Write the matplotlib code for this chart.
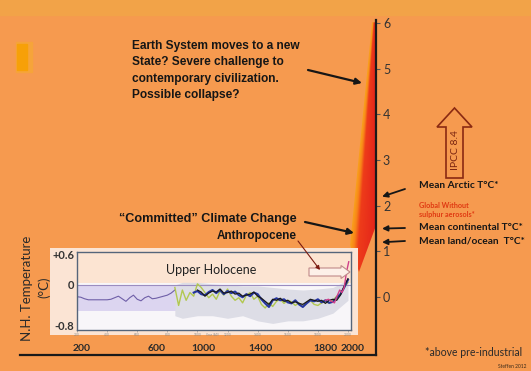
import numpy as np
import matplotlib
matplotlib.use("Agg")
import matplotlib.pyplot as plt
from matplotlib.patches import Polygon, Rectangle, FancyArrow
from matplotlib.colors import LinearSegmentedColormap

# --- inset: N.H. temperature reconstructions (deg C anomaly) ---
purple_years = list(range(200, 851, 25))
purple_vals = [-0.23, -0.24, -0.27, -0.29, -0.29, -0.29, -0.29, -0.29, -0.29,
               -0.28, -0.25, -0.22, -0.27, -0.32, -0.25, -0.20, -0.28, -0.31,
               -0.25, -0.22, -0.27, -0.26, -0.24, -0.22, -0.20, -0.16, -0.10]

green_years = list(range(850, 2001, 25))
green_vals = [-0.05, -0.40, -0.10, -0.30, -0.15, -0.22, 0.02, -0.05, -0.15, -0.25,
              -0.18, -0.28, -0.12, -0.20, -0.08, -0.22, -0.30, -0.25, -0.35, -0.20,
              -0.15, -0.28, -0.22, -0.38, -0.45, -0.35, -0.42, -0.32, -0.28, -0.36,
              -0.30, -0.33, -0.40, -0.35, -0.42, -0.36, -0.30, -0.38, -0.40, -0.35,
              -0.32, -0.36, -0.30, -0.22, -0.18, -0.05, 0.05]

blue_years = list(range(975, 2001, 25))
blue_vals = [-0.15, -0.12, -0.18, -0.20, -0.14, -0.10, -0.16, -0.10, -0.18, -0.12,
             -0.16, -0.13, -0.20, -0.24, -0.18, -0.22, -0.15, -0.18, -0.28, -0.36,
             -0.43, -0.30, -0.26, -0.30, -0.28, -0.34, -0.36, -0.30, -0.38, -0.43,
             -0.36, -0.30, -0.32, -0.28, -0.34, -0.30, -0.35, -0.33, -0.25, -0.18,
             -0.05, 0.10]

black_years = list(range(1000, 2001, 25))
black_vals = [-0.10, -0.14, -0.22, -0.16, -0.12, -0.14, -0.08, -0.16, -0.15, -0.12,
              -0.18, -0.16, -0.22, -0.20, -0.18, -0.14, -0.22, -0.26, -0.32, -0.38,
              -0.28, -0.30, -0.26, -0.32, -0.30, -0.35, -0.33, -0.36, -0.38, -0.33,
              -0.28, -0.30, -0.32, -0.30, -0.36, -0.30, -0.28, -0.30, -0.20, -0.02,
              0.12]

pink_years = [1850, 1870, 1890, 1910, 1930, 1945, 1960, 1975, 1990, 2005]
pink_vals = [-0.30, -0.28, -0.32, -0.35, -0.20, -0.10, -0.15, -0.05, 0.25, 0.45]

env_years = [850, 900, 1000, 1100, 1200, 1300, 1400, 1500, 1600, 1700, 1800, 1900, 2000]
env_hi = [0.0, 0.05, 0.05, 0.02, 0.0, -0.02, -0.02, -0.05, -0.08, -0.10, -0.08, -0.05, 0.10]
env_lo = [-0.60, -0.65, -0.60, -0.60, -0.65, -0.60, -0.70, -0.75, -0.70, -0.70, -0.65, -0.55, -0.30]

lav_years = [200, 1000]
lav_hi = [0.0, 0.0]
lav_lo = [-0.5, -0.5]

inset_yticks = [0.6, 0, -0.8]
inset_ylabels = ["+0.6", "0", "-0.8"]
inset_xticks = list(range(200, 2001, 200))

# --- main axis ---
main_yticks = [0, 1, 2, 3, 4, 5, 6]
main_xlabels = ["200", "600", "1000", "1400", "1800", "2000"]
main_xpos = [233, 731, 1036, 1421, 1846, 2033]

# projected warming fan (year-scale of the drawing, deg C)
fan_year = [2159, 2013, 2072, 2179, 2182]
fan_temp = [6.02, 1.14, 0.55, 1.51, 6.02]

arctic_T = 2.2
continental_T = 1.5
land_ocean_T = 1.2

BG = "#F69A4F"
W, H = 531, 371


def box(x0, y0, x1, y1):
    return [x0 / W, 1 - y1 / H, (x1 - x0) / W, (y1 - y0) / H]


ARIAL = "Liberation Sans"
CAL = "Lato"

fig = plt.figure(figsize=(W / 100, H / 100), dpi=100, facecolor=BG)
fig.add_artist(Rectangle((0, 1 - 15 / H), 1, 15 / H, transform=fig.transFigure,
                         color="#F2A348", zorder=-1))
fig.add_artist(Rectangle((16 / W, 1 - 72 / H), 16 / W, 30 / H, transform=fig.transFigure,
                         color="#F6A43A", zorder=-1))
fig.add_artist(Rectangle((17 / W, 1 - 70 / H), 10 / W, 26 / H, transform=fig.transFigure,
                         color="#F7A008", zorder=-1))

# main axes
ax = fig.add_axes(box(20, 20, 376, 355))
ax.set_facecolor("none")

fan = Polygon(np.column_stack([fan_year, fan_temp]), closed=True, fc="none", ec="none")
ax.add_patch(fan)
gx = np.linspace(2005, 2185, 240)
gy = np.linspace(0.4, 6.1, 300)
GX, GY = np.meshgrid(gx, gy)
xl = np.interp(GY, [fan_temp[1], fan_temp[0]], [fan_year[1], fan_year[0]])
t = np.clip((GX - xl) / (2178 - xl), 0, 1)
cmap = LinearSegmentedColormap.from_list(
    "fan", [(0, "#F9A01C"), (0.15, "#F88418"), (0.32, "#EE3C1A"), (1, "#E4241A")])
im = ax.imshow(t, extent=[2005, 2185, 0.4, 6.1], origin="lower", cmap=cmap,
               aspect="auto", zorder=2, vmin=0, vmax=1)
im.set_clip_path(fan)

ax.set_xlim(-178, 2185)
ax.set_ylim(-1.27, 6.07)
for s in ["left", "top"]:
    ax.spines[s].set_visible(False)
for s in ["bottom", "right"]:
    ax.spines[s].set_color("#1A1A1A")
    ax.spines[s].set_linewidth(1.6)
ax.yaxis.tick_right()
ax.set_yticks(main_yticks)
ax.set_yticklabels([str(v) for v in main_yticks], family=CAL, fontsize=9, color="#333333")
ax.tick_params(axis="y", length=3, width=0.8, color="#555555", pad=2)
ax.set_xticks(main_xpos)
ax.set_xticklabels(main_xlabels, family=CAL, fontsize=7.5, fontweight="bold", color="#2A2A2A")
ax.tick_params(axis="x", length=0, pad=-8)

# inset panel
ap = fig.add_axes(box(50, 248, 358, 335))
ap.set_facecolor("#FBE4D4")
ap.set_xticks([])
ap.set_yticks([])
for s in ap.spines.values():
    s.set_visible(False)

ai = fig.add_axes(box(77, 252, 351, 330))
ai.set_facecolor("#F8F6F9")
ai.set_xlim(200, 2020)
ai.set_ylim(-0.878, 0.64)
ai.axhspan(0.03, 0.64, color="#FCE4D2", lw=0)
ai.fill_between(lav_years, lav_lo, lav_hi, color="#DCD5F0", lw=0)
ai.fill_between(env_years, env_lo, env_hi, color="#DDDDE6", lw=0)
ai.axhline(0, color="#9C8CC0", lw=0.8)
ai.plot(purple_years, purple_vals, color="#6F5FA8", lw=0.8)
ai.plot(green_years, green_vals, color="#B2C850", lw=1.0)
ai.plot(blue_years, blue_vals, color="#2535A0", lw=1.5)
ai.plot(black_years, black_vals, color="#1A1A1A", lw=0.9)
ai.plot(pink_years, pink_vals, color="#D0408A", lw=1.0)
for s in ai.spines.values():
    s.set_color("#55657A")
    s.set_linewidth(1.0)
ai.set_yticks(inset_yticks)
ai.set_yticklabels(inset_ylabels, family=CAL, fontsize=8, fontweight="bold", color="#333333")
ai.tick_params(axis="y", length=0, pad=2)
ai.set_xticks(inset_xticks)
ai.set_xticklabels([str(v) for v in inset_xticks], fontsize=2.2, color="#888888")
ai.tick_params(axis="x", length=1.5, width=0.4, pad=0.5, color="#888888")

# overlay for text and arrows (pixel coordinates)
ov = fig.add_axes([0, 0, 1, 1])
ov.set_xlim(0, W)
ov.set_ylim(H, 0)
ov.axis("off")

dark = "#161616"
ov.text(132, 70.5, "Earth System moves to a new\nState? Severe challenge to\n"
        "contemporary civilization.\nPossible collapse?",
        family=ARIAL, fontweight="bold", fontsize=8.6, color=dark,
        ha="left", va="center", linespacing=1.45)
ov.text(297, 219, "\u201cCommitted\u201d Climate Change", family=ARIAL, fontweight="bold",
        fontsize=9.1, color=dark, ha="right", va="center")
ov.text(297, 236, "Anthropocene", family=ARIAL, fontweight="bold",
        fontsize=8.5, color=dark, ha="right", va="center")
ov.text(211, 270, "Upper Holocene", family=CAL, fontsize=9, color="#222222",
        ha="center", va="center")
ov.text(27, 288, "N.H. Temperature", family=CAL, fontsize=9.5, color="#2A2A2A",
        rotation=90, ha="center", va="center")
ov.text(44, 287, "(\u00b0C)", family=CAL, fontsize=9.5, color="#2A2A2A",
        rotation=90, ha="center", va="center")
ov.text(212, 334.5, "Year (AD)", fontsize=2.0, color="#888888", ha="center", va="center")

ov.text(419, 186, "Mean Arctic T\u00b0C*", family=CAL, fontweight="bold", fontsize=7.3,
        color=dark, ha="left", va="center")
ov.text(419, 210, "Global Without\nsulphur aerosols*", family=CAL, fontweight="bold",
        fontsize=5.2, color="#E03A12", ha="left", va="center", linespacing=1.3)
ov.text(419, 228, "Mean continental T\u00b0C*", family=CAL, fontweight="bold", fontsize=7.3,
        color=dark, ha="left", va="center")
ov.text(419, 241, "Mean land/ocean  T\u00b0C*", family=CAL, fontweight="bold", fontsize=7.3,
        color=dark, ha="left", va="center")
ov.text(425, 352, "*above pre-industrial", family=CAL, fontsize=7.6, color="#2A2A2A",
        ha="left", va="center")
ov.text(527, 366, "Steffen 2012", family=CAL, fontsize=3.5, color="#3A2A1A",
        ha="right", va="center")

# hollow IPCC arrow
ov.add_patch(FancyArrow(454.5, 178, 0, -70, width=17, head_width=35, head_length=19,
                        length_includes_head=True, fc="none", ec="#8A2A12", lw=1.2))
ov.text(455, 150, "IPCC 8.4", family=CAL, fontsize=7.5, color="#7A2410",
        rotation=90, ha="center", va="center")

# hollow Anthropocene arrow in inset
ov.add_patch(FancyArrow(309, 272, 41, 0, width=8, head_width=13, head_length=9,
                        length_includes_head=True, fc="#FDF0E8", ec="#C08A8A", lw=0.8))

arr = dict(arrowstyle="-|>", lw=1.6, color=dark, mutation_scale=9, shrinkA=0, shrinkB=0)
ov.annotate("", xy=(362, 83), xytext=(308, 70), arrowprops=arr)
ov.annotate("", xy=(354, 233), xytext=(305, 222), arrowprops=arr)
ov.annotate("", xy=(320, 270), xytext=(298, 241),
            arrowprops=dict(arrowstyle="-|>", lw=0.8, color="#7A1A10",
                            mutation_scale=6, shrinkA=0, shrinkB=0))
for temp, ty in [(arctic_T, 189), (continental_T, 228), (land_ocean_T, 241)]:
    ax.annotate("", xy=(1.017, temp), xycoords=("axes fraction", "data"),
                xytext=(405, ty), textcoords=ov.transData, annotation_clip=False,
                arrowprops=dict(arrowstyle="-|>", lw=1.3, color=dark,
                                mutation_scale=8, shrinkA=0, shrinkB=0))

fig.savefig("out.png", dpi=100, facecolor=BG)
